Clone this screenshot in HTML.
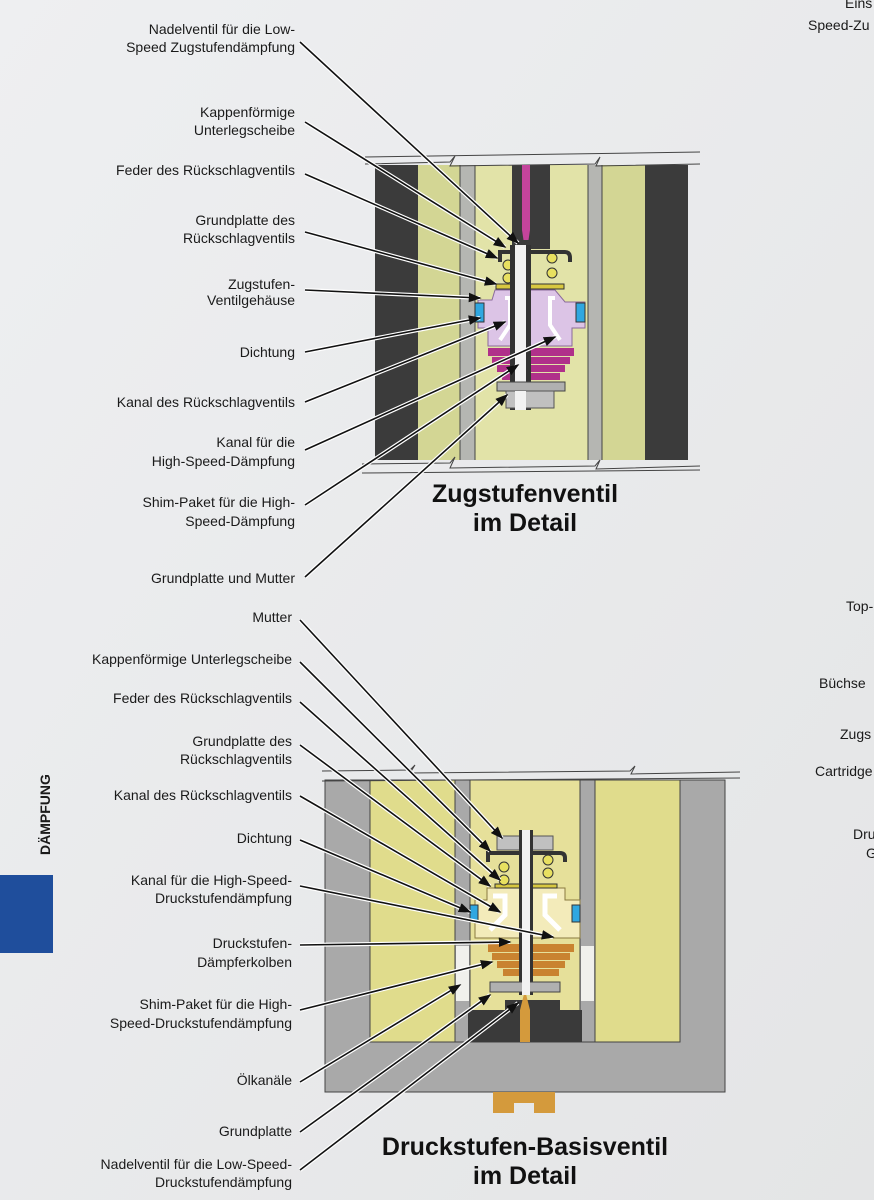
<!DOCTYPE html>
<html><head><meta charset="utf-8"><style>
html,body{margin:0;padding:0;background:#ecedee;}
svg{display:block;}
text{font-family:"Liberation Sans Narrow","Liberation Sans",sans-serif;font-size:14px;fill:#1a1a1a;}
.r{text-anchor:end;}
.t{font-family:"Liberation Sans Narrow","Liberation Sans",sans-serif;font-weight:bold;font-size:25px;text-anchor:middle;fill:#111;}
.h{stroke:#fff;stroke-width:4;fill:none;}
.l{stroke:#111;stroke-width:1.6;fill:none;marker-end:url(#a);}
</style></head><body>
<svg width="874" height="1200" viewBox="0 0 874 1200" xmlns="http://www.w3.org/2000/svg">
<defs>
<linearGradient id="bg" x1="0" y1="0" x2="1" y2="1"><stop offset="0" stop-color="#eeeff1"/><stop offset="1" stop-color="#e4e5e6"/></linearGradient>
<marker id="a" markerWidth="8" markerHeight="6" refX="7" refY="3" orient="auto" markerUnits="strokeWidth" viewBox="0 0 8 6"><path d="M0,0 L8,3 L0,6 z" fill="#111"/></marker>
</defs>
<rect width="874" height="1200" fill="url(#bg)"/>

<!-- side marker -->
<text transform="translate(50,855) rotate(-90)" style="font-weight:bold;font-size:14px">DÄMPFUNG</text>
<rect x="0" y="875" width="53" height="78" fill="#1f4e9c"/>

<!-- right edge fragments -->
<text x="845" y="8">Eins</text>
<text x="808" y="30">Speed-Zu</text>
<text x="846" y="611">Top-</text>
<text x="819" y="688">Büchse</text>
<text x="840" y="739">Zugs</text>
<text x="815" y="776">Cartridge</text>
<text x="853" y="839">Dru</text>
<text x="866" y="858">G</text>

<!-- ===== TOP DIAGRAM ===== -->
<g>
<rect x="375" y="165" width="43" height="295" fill="#3b3b3b"/>
<rect x="418" y="165" width="42" height="295" fill="#d3d694"/>
<rect x="460" y="165" width="15" height="295" fill="#b5b6b2"/>
<rect x="475" y="165" width="113" height="295" fill="#e2e3a8"/>
<rect x="512" y="165" width="38" height="80" fill="#3b3b3b"/>
<rect x="588" y="165" width="14" height="295" fill="#b5b6b2"/>
<rect x="602" y="165" width="43" height="295" fill="#d3d694"/>
<rect x="645" y="165" width="43" height="295" fill="#3b3b3b"/>
<g stroke="#444" stroke-width="1" fill="none">
<line x1="460" y1="165" x2="460" y2="460"/><line x1="475" y1="165" x2="475" y2="460"/>
<line x1="588" y1="165" x2="588" y2="460"/><line x1="602" y1="165" x2="602" y2="460"/>
<path d="M365,164 L450,162 L455,156 L450,166 L595,164 L600,157 L596,166 L700,164"/>
<path d="M365,157 L700,152"/>
<path d="M362,464 L450,463 L455,457 L450,468 L595,466 L600,460 L596,469 L700,466"/>
<path d="M362,473 L700,470"/>
</g>
<!-- needle -->
<path d="M522,165 L530,165 L530,230 L527,250 L525,250 L522,230 z" fill="#c4449c"/>
<!-- pink shims -->
<rect x="488" y="348" width="86" height="8" fill="#b0308a"/>
<rect x="492" y="357" width="78" height="7" fill="#b0308a"/>
<rect x="497" y="365" width="68" height="7" fill="#b0308a"/>
<rect x="502" y="373" width="58" height="7" fill="#b0308a"/>
<!-- housing -->
<path d="M495,290 L555,290 L565,302 L585,302 L585,328 L572,328 L572,346 L488,346 L488,328 L478,328 L478,300 L492,300 z" fill="#dcc4e6" stroke="#8a6a9a" stroke-width="1"/>
<path d="M505,298 L510,298 L510,325 L500,340" stroke="#fff" stroke-width="4" fill="none"/>
<path d="M555,298 L550,298 L550,325 L560,340" stroke="#fff" stroke-width="4" fill="none"/>
<rect x="475" y="303" width="9" height="19" fill="#2fa7e0" stroke="#333" stroke-width="1"/>
<rect x="576" y="303" width="9" height="19" fill="#2fa7e0" stroke="#333" stroke-width="1"/>
<!-- base plate -->
<rect x="496" y="284" width="68" height="5" fill="#d8c840" stroke="#333" stroke-width="1"/>
<!-- springs -->
<g fill="#e8e060" stroke="#333" stroke-width="1">
<circle cx="508" cy="265" r="5"/><circle cx="508" cy="278" r="5"/>
<circle cx="552" cy="258" r="5"/><circle cx="552" cy="273" r="5"/>
</g>
<!-- cap -->
<path d="M500,262 L500,252 L565,252 Q570,252 570,258 L570,262" stroke="#333" stroke-width="4" fill="none"/>
<rect x="512" y="240" width="38" height="9" fill="#3b3b3b"/>
<!-- shaft -->
<rect x="510" y="245" width="21" height="165" fill="#333"/>
<rect x="515" y="245" width="11" height="165" fill="#f2f2f2"/>
<!-- plate & nut -->
<rect x="497" y="382" width="68" height="9" fill="#b0b0b0" stroke="#444" stroke-width="1"/>
<rect x="506" y="391" width="48" height="17" fill="#c0c0c0" stroke="#555" stroke-width="1"/>
<rect x="515" y="391" width="11" height="19" fill="#f2f2f2"/>
</g>
<text class="t" x="525" y="502">Zugstufenventil</text>
<text class="t" x="525" y="531">im Detail</text>

<!-- top labels -->
<text class="r" x="295" y="34">Nadelventil für die Low-</text>
<text class="r" x="295" y="52">Speed Zugstufendämpfung</text>
<text class="r" x="295" y="117">Kappenförmige</text>
<text class="r" x="295" y="135">Unterlegscheibe</text>
<text class="r" x="295" y="175">Feder des Rückschlagventils</text>
<text class="r" x="295" y="225">Grundplatte des</text>
<text class="r" x="295" y="243">Rückschlagventils</text>
<text class="r" x="295" y="289">Zugstufen-</text>
<text class="r" x="295" y="305">Ventilgehäuse</text>
<text class="r" x="295" y="357">Dichtung</text>
<text class="r" x="295" y="407">Kanal des Rückschlagventils</text>
<text class="r" x="295" y="447">Kanal für die</text>
<text class="r" x="295" y="466">High-Speed-Dämpfung</text>
<text class="r" x="295" y="507">Shim-Paket für die High-</text>
<text class="r" x="295" y="526">Speed-Dämpfung</text>
<text class="r" x="295" y="583">Grundplatte und Mutter</text>

<g id="tl">
<path class="h" d="M300,42 L518,243"/><path class="l" d="M300,42 L518,243"/>
<path class="h" d="M305,122 L505,247"/><path class="l" d="M305,122 L505,247"/>
<path class="h" d="M305,174 L497,258"/><path class="l" d="M305,174 L497,258"/>
<path class="h" d="M305,232 L496,284"/><path class="l" d="M305,232 L496,284"/>
<path class="h" d="M305,290 L480,298"/><path class="l" d="M305,290 L480,298"/>
<path class="h" d="M305,352 L480,318"/><path class="l" d="M305,352 L480,318"/>
<path class="h" d="M305,402 L505,322"/><path class="l" d="M305,402 L505,322"/>
<path class="h" d="M305,450 L555,337"/><path class="l" d="M305,450 L555,337"/>
<path class="h" d="M305,505 L518,365"/><path class="l" d="M305,505 L518,365"/>
<path class="h" d="M305,577 L507,395"/><path class="l" d="M305,577 L507,395"/>
</g>

<!-- ===== BOTTOM DIAGRAM ===== -->
<g>
<rect x="325" y="780" width="400" height="312" fill="#a9a9a9" stroke="#444" stroke-width="1"/>
<rect x="370" y="780" width="85" height="262" fill="#e0dc8c"/>
<rect x="455" y="780" width="15" height="262" fill="#a9a9a9"/>
<rect x="470" y="780" width="110" height="262" fill="#e6e09a"/>
<rect x="580" y="780" width="15" height="262" fill="#a9a9a9"/>
<rect x="595" y="780" width="85" height="262" fill="#e0dc8c"/>
<rect x="456" y="946" width="13" height="55" fill="#f0f0ec"/>
<rect x="581" y="946" width="13" height="55" fill="#f0f0ec"/>
<g stroke="#444" stroke-width="1" fill="none">
<rect x="370" y="780" width="310" height="262"/>
<line x1="455" y1="780" x2="455" y2="1042"/><line x1="470" y1="780" x2="470" y2="1042"/>
<line x1="580" y1="780" x2="580" y2="1042"/><line x1="595" y1="780" x2="595" y2="1042"/>
<path d="M322,771 L410,770 L415,765 L410,773 L630,771 L635,766 L631,774 L740,772"/>
<path d="M322,781 L740,778"/>
</g>
<!-- dark threaded base -->
<path d="M468,1010 L505,1010 L505,1000 L560,1000 L560,1010 L582,1010 L582,1042 L468,1042 z" fill="#3a3a3a"/>
<!-- orange needle -->
<path d="M520,1042 L520,1010 L525,990 L530,1010 L530,1042 z" fill="#d49a3c"/>
<!-- shims -->
<rect x="488" y="944" width="86" height="8" fill="#c98330"/>
<rect x="492" y="953" width="78" height="7" fill="#c98330"/>
<rect x="497" y="961" width="68" height="7" fill="#c98330"/>
<rect x="503" y="969" width="56" height="7" fill="#c98330"/>
<!-- housing -->
<path d="M487,888 L565,888 L565,900 L580,900 L580,938 L475,938 L475,900 L487,900 z" fill="#f3ebba" stroke="#8a7a40" stroke-width="1"/>
<path d="M493,896 L505,896 L505,915 L490,930" stroke="#fff" stroke-width="5" fill="none"/>
<path d="M557,896 L545,896 L545,915 L560,930" stroke="#fff" stroke-width="5" fill="none"/>
<rect x="470" y="905" width="8" height="17" fill="#2fa7e0" stroke="#333" stroke-width="1"/>
<rect x="572" y="905" width="8" height="17" fill="#2fa7e0" stroke="#333" stroke-width="1"/>
<rect x="495" y="884" width="62" height="4" fill="#d8c840" stroke="#333" stroke-width="1"/>
<g fill="#e8e060" stroke="#333" stroke-width="1">
<circle cx="504" cy="867" r="5"/><circle cx="504" cy="880" r="5"/>
<circle cx="548" cy="860" r="5"/><circle cx="548" cy="873" r="5"/>
</g>
<path d="M488,862 L488,853 L560,853 Q565,853 565,858 L565,862" stroke="#333" stroke-width="4" fill="none"/>
<rect x="497" y="836" width="56" height="14" fill="#c0c0c0" stroke="#555" stroke-width="1"/>
<rect x="519" y="830" width="14" height="165" fill="#333"/>
<rect x="522" y="830" width="8" height="165" fill="#f2f2f2"/>
<rect x="490" y="982" width="70" height="10" fill="#b0b0b0" stroke="#444" stroke-width="1"/>
<rect x="522" y="980" width="8" height="14" fill="#f2f2f2"/>
<!-- orange tab -->
<path d="M493,1092 L555,1092 L555,1113 L534,1113 L534,1103 L514,1103 L514,1113 L493,1113 z" fill="#d49a3c"/>
</g>
<text class="t" x="525" y="1155">Druckstufen-Basisventil</text>
<text class="t" x="525" y="1184">im Detail</text>

<text class="r" x="292" y="622">Mutter</text>
<text class="r" x="292" y="664">Kappenförmige Unterlegscheibe</text>
<text class="r" x="292" y="703">Feder des Rückschlagventils</text>
<text class="r" x="292" y="746">Grundplatte des</text>
<text class="r" x="292" y="764">Rückschlagventils</text>
<text class="r" x="292" y="800">Kanal des Rückschlagventils</text>
<text class="r" x="292" y="843">Dichtung</text>
<text class="r" x="292" y="885">Kanal für die High-Speed-</text>
<text class="r" x="292" y="903">Druckstufendämpfung</text>
<text class="r" x="292" y="948">Druckstufen-</text>
<text class="r" x="292" y="967">Dämpferkolben</text>
<text class="r" x="292" y="1009">Shim-Paket für die High-</text>
<text class="r" x="292" y="1028">Speed-Druckstufendämpfung</text>
<text class="r" x="292" y="1085">Ölkanäle</text>
<text class="r" x="292" y="1136">Grundplatte</text>
<text class="r" x="292" y="1169">Nadelventil für die Low-Speed-</text>
<text class="r" x="292" y="1187">Druckstufendämpfung</text>

<g>
<path class="h" d="M300,620 L502,838"/><path class="l" d="M300,620 L502,838"/>
<path class="h" d="M300,662 L490,851"/><path class="l" d="M300,662 L490,851"/>
<path class="h" d="M300,702 L500,880"/><path class="l" d="M300,702 L500,880"/>
<path class="h" d="M300,745 L490,886"/><path class="l" d="M300,745 L490,886"/>
<path class="h" d="M300,796 L500,912"/><path class="l" d="M300,796 L500,912"/>
<path class="h" d="M300,840 L470,912"/><path class="l" d="M300,840 L470,912"/>
<path class="h" d="M300,886 L553,937"/><path class="l" d="M300,886 L553,937"/>
<path class="h" d="M300,945 L510,942"/><path class="l" d="M300,945 L510,942"/>
<path class="h" d="M300,1010 L492,962"/><path class="l" d="M300,1010 L492,962"/>
<path class="h" d="M300,1082 L460,985"/><path class="l" d="M300,1082 L460,985"/>
<path class="h" d="M300,1132 L490,995"/><path class="l" d="M300,1132 L490,995"/>
<path class="h" d="M300,1170 L518,1003"/><path class="l" d="M300,1170 L518,1003"/>
</g>
</svg>
</body></html>
